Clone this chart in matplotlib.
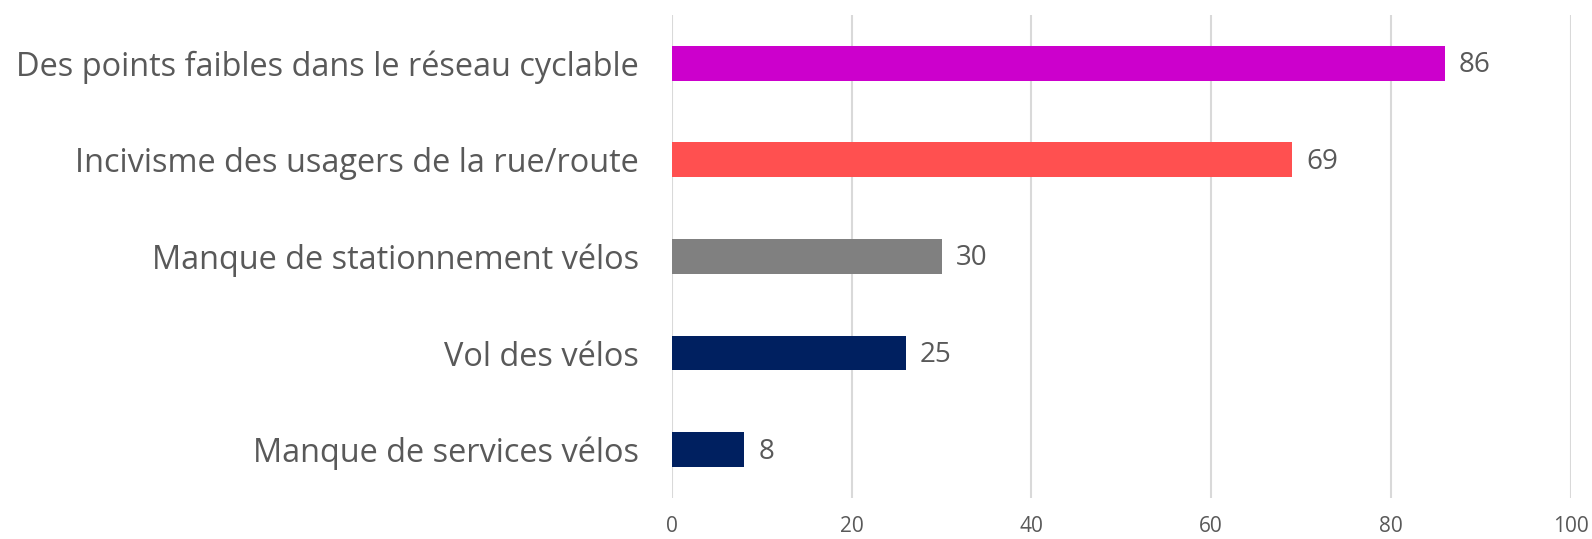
import matplotlib
matplotlib.use("Agg")
import matplotlib.pyplot as plt

# Data (top to bottom)
categories = [
    "Des points faibles dans le réseau cyclable",
    "Incivisme des usagers de la rue/route",
    "Manque de stationnement vélos",
    "Vol des vélos",
    "Manque de services vélos",
]
values = [86, 69, 30, 26, 8]
value_labels = ["86", "69", "30", "25", "8"]
bar_colors = ["#CC00CC", "#FF5050", "#808080", "#002060", "#002060"]
x_ticks = [0, 20, 40, 60, 80, 100]

text_color = "#595959"
grid_color = "#D9D9D9"

plt.rcParams['font.family'] = ['Open Sans', 'DejaVu Sans']

fig = plt.figure(figsize=(15.92, 5.39), dpi=100)
ax = fig.add_axes([0.4221, 0.0761, 0.5644, 0.8961])

y = list(range(len(categories)))
ax.barh(y, values, height=0.36, color=bar_colors, zorder=3)

for yi, v, lab in zip(y, values, value_labels):
    ax.text(v + 1.6, yi + 0.02, lab, va='center', ha='left', fontsize=20, color=text_color)

ax.set_xlim(0, 100)
ax.set_ylim(len(categories) - 0.5, -0.5)
ax.set_xticks(x_ticks)
ax.set_yticks(y)
ax.set_yticklabels(categories, fontsize=23.4, color=text_color)
ax.tick_params(axis='y', length=0, pad=24)
ax.tick_params(axis='x', length=0, pad=13, labelsize=15, labelcolor=text_color)

ax.grid(axis='x', color=grid_color, linewidth=1.5, zorder=0)
for s in ax.spines.values():
    s.set_visible(False)

fig.savefig("out.png", dpi=100)
